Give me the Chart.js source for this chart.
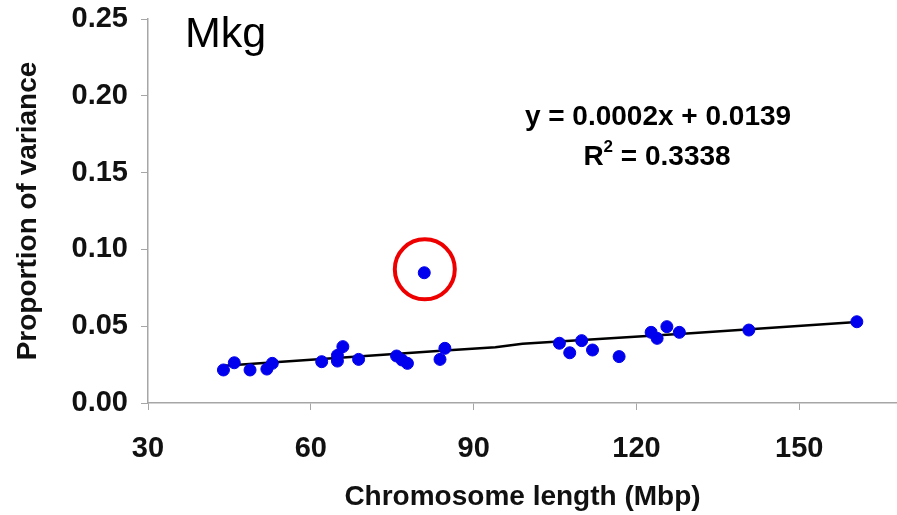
<!DOCTYPE html>
<html>
<head>
<meta charset="utf-8">
<script src="https://cdn.jsdelivr.net/npm/chart.js@4"></script>
<style>
  html, body { margin: 0; padding: 0; background: #fff; }
  #wrap { width: 897px; height: 515px; }
</style>
</head>
<body>
<div id="wrap"><canvas id="varChart" width="897" height="515"></canvas></div>
<script>
// chromosome length (Mbp) and proportion of variance per chromosome
const chromLength = [43.9, 45.9, 48.8, 51.9, 52.9, 62.0, 64.9, 64.9, 65.9, 68.8,
                     75.8, 76.8, 77.8, 83.8, 84.7, 105.8, 107.7, 109.9, 111.9, 116.8,
                     122.7, 123.8, 125.6, 127.9, 140.7, 160.6];
const propVariance = [0.0215, 0.0262, 0.0215, 0.0221, 0.0258, 0.0269, 0.0273, 0.0310, 0.0367, 0.0284,
                      0.0306, 0.0280, 0.0258, 0.0284, 0.0356, 0.0389, 0.0327, 0.0406, 0.0345, 0.0302,
                      0.0460, 0.0421, 0.0497, 0.0460, 0.0475, 0.0529];

// the outlier (circled)
const outlierLength = [80.9];
const outlierVariance = [0.0848];
const circleLength = [81.0];
const circleVariance = [0.0870];

// trend line as drawn
const trendX = [44.0, 84.0, 94.0, 99.0, 130.0, 160.6];
const trendY = [0.0243, 0.0340, 0.0363, 0.0385, 0.0454, 0.0527];

const xTicks = [30, 60, 90, 120, 150];
const yTicks = [0, 0.05, 0.10, 0.15, 0.20, 0.25];

const equationLines = ['y = 0.0002x + 0.0139', 'R', ' = 0.3338'];
const panelLabel = 'Mkg';

const toPoints = (xs, ys) => xs.map((x, i) => ({ x: x, y: ys[i] }));

const fontFamily = '"Liberation Sans", Arial, sans-serif';
const axisGray = '#a6a6a6';

const textPlugin = {
    id: 'textPlugin',
    afterDraw(chart) {
        const ctx = chart.ctx;
        ctx.save();
        ctx.fillStyle = '#000';
        ctx.textBaseline = 'alphabetic';

        ctx.font = '43px ' + fontFamily;
        ctx.textAlign = 'left';
        ctx.fillText(panelLabel, 185, 47);

        ctx.font = 'bold 28px ' + fontFamily;
        ctx.textAlign = 'center';
        ctx.fillText(equationLines[0], 658, 125);

        // R² line with superscript
        const rW = ctx.measureText(equationLines[1]).width;
        ctx.font = 'bold 17px ' + fontFamily;
        const supW = ctx.measureText('2').width;
        ctx.font = 'bold 28px ' + fontFamily;
        const restW = ctx.measureText(equationLines[2]).width;
        const total = rW + supW + restW;
        let x = 657 - total / 2;
        ctx.textAlign = 'left';
        ctx.fillText(equationLines[1], x, 165);
        x += rW;
        ctx.font = 'bold 17px ' + fontFamily;
        ctx.fillText('2', x, 152);
        x += supW;
        ctx.font = 'bold 28px ' + fontFamily;
        ctx.fillText(equationLines[2], x, 165);
        ctx.restore();
    }
};

const ctx = document.getElementById('varChart').getContext('2d');
const varChart = new Chart(ctx, {
    type: 'scatter',
    data: {
        datasets: [
            {
                label: 'trend',
                type: 'line',
                data: toPoints(trendX, trendY),
                borderColor: '#000',
                borderWidth: 2.5,
                pointRadius: 0,
                fill: false,
                order: 3
            },
            {
                label: 'chromosomes',
                data: toPoints(chromLength, propVariance),
                backgroundColor: '#0000ee',
                borderColor: '#0000ee',
                pointRadius: 6,
                order: 2
            },
            {
                label: 'outlier',
                data: toPoints(outlierLength, outlierVariance),
                backgroundColor: '#0000ee',
                borderColor: '#0000ee',
                pointRadius: 6,
                order: 1
            },
            {
                label: 'circle',
                data: toPoints(circleLength, circleVariance),
                backgroundColor: 'rgba(0,0,0,0)',
                borderColor: '#ee0000',
                borderWidth: 4,
                pointRadius: 30,
                order: 0
            }
        ]
    },
    options: {
        responsive: false,
        animation: false,
        layout: {
            autoPadding: false,
            padding: { top: 19, right: 0, left: 0, bottom: 0 }
        },
        plugins: {
            legend: { display: false },
            tooltip: { enabled: false }
        },
        scales: {
            x: {
                type: 'linear',
                min: 30,
                max: 168,
                afterBuildTicks: scale => {
                    scale.ticks = xTicks.map(v => ({ value: v }));
                },
                afterFit: scale => {
                    scale.height = 112;
                    scale.paddingLeft = 0;
                    scale.paddingRight = 0;
                },
                grid: {
                    drawOnChartArea: false,
                    drawTicks: true,
                    tickLength: 7,
                    tickColor: axisGray
                },
                border: { color: axisGray, width: 1.5 },
                ticks: {
                    padding: 22,
                    color: '#111',
                    font: { family: fontFamily, size: 29, weight: 'bold' },
                    maxRotation: 0
                },
                title: {
                    display: true,
                    text: 'Chromosome length (Mbp)',
                    color: '#111',
                    font: { family: fontFamily, size: 28, weight: 'bold' },
                    padding: { top: 0, bottom: 1 }
                }
            },
            y: {
                min: 0,
                max: 0.25,
                afterBuildTicks: scale => {
                    scale.ticks = yTicks.map(v => ({ value: v }));
                },
                afterFit: scale => {
                    scale.width = 148;
                    scale.paddingTop = 0;
                    scale.paddingBottom = 0;
                },
                grid: {
                    drawOnChartArea: false,
                    drawTicks: true,
                    tickLength: 7,
                    tickColor: axisGray
                },
                border: { color: axisGray, width: 1.5 },
                ticks: {
                    padding: 13,
                    color: '#111',
                    font: { family: fontFamily, size: 29, weight: 'bold' },
                    callback: v => v.toFixed(2)
                },
                title: {
                    display: true,
                    text: 'Proportion of variance',
                    color: '#111',
                    font: { family: fontFamily, size: 28, weight: 'bold' },
                    padding: { top: 11, bottom: 0 }
                }
            }
        }
    },
    plugins: [textPlugin]
});
</script>
</body>
</html>
